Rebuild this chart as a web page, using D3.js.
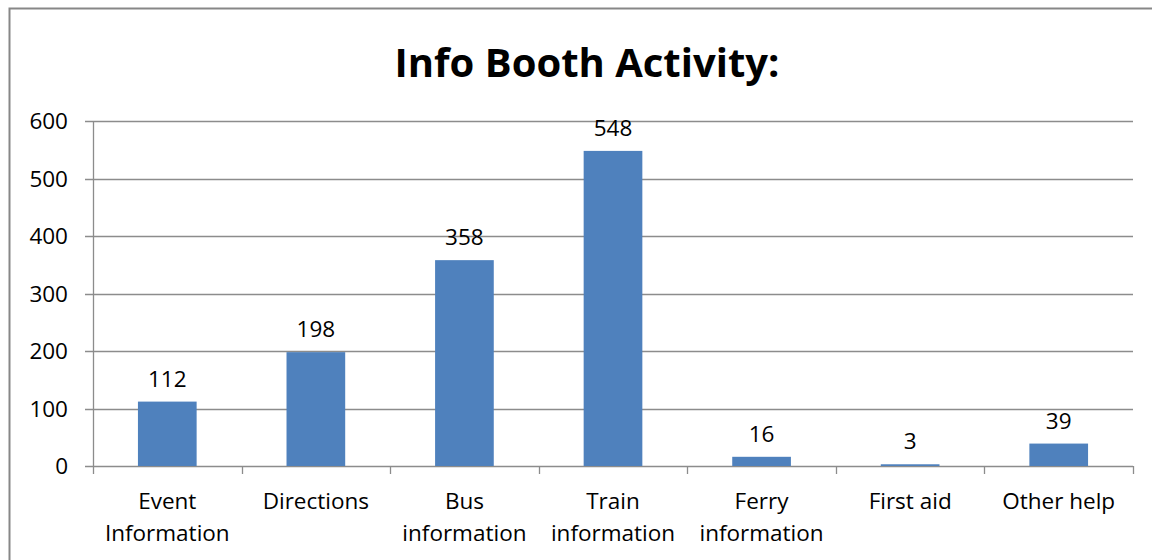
<!DOCTYPE html>
<html>
<head>
<meta charset="utf-8">
<script src="https://cdn.jsdelivr.net/npm/d3@7"></script>
<style>
  body { margin: 0; background: #fff; }
  text { font-family: "Open Sans", Lato, sans-serif; fill: #000; }
</style>
</head>
<body>
<svg id="chart" width="1152" height="560"></svg>
<script>
const categories = [
    ["Event", "Information"],
    ["Directions"],
    ["Bus", "information"],
    ["Train", "information"],
    ["Ferry", "information"],
    ["First aid"],
    ["Other help"]
];
const values = [112, 198, 358, 548, 16, 3, 39];
const yTicks = [0, 100, 200, 300, 400, 500, 600];

const svg = d3.select("#chart");

// chart frame
svg.append("rect")
    .attr("x", 9.5).attr("y", 8.5)
    .attr("width", 1200).attr("height", 600)
    .attr("fill", "none")
    .attr("stroke", "#878787")
    .attr("stroke-width", 2);

svg.append("text")
    .attr("x", 587).attr("y", 77)
    .attr("text-anchor", "middle")
    .style("font-size", "40px")
    .style("font-weight", "bold")
    .text("Info Booth Activity:");

const plotL = 93, plotR = 1133, plotT = 121, plotB = 466;
const fs = "22.5px";

const x = d3.scaleBand()
    .domain(d3.range(categories.length))
    .range([plotL, plotR])
    .padding(0);

const y = d3.scaleLinear()
    .domain([0, 600])
    .range([plotB, plotT]);

// gridlines
svg.selectAll(".grid")
    .data(yTicks)
    .enter().append("line")
    .attr("x1", plotL - 8).attr("x2", plotR)
    .attr("y1", d => Math.round(y(d)) + 0.5)
    .attr("y2", d => Math.round(y(d)) + 0.5)
    .attr("stroke", "#8c8c8c")
    .attr("stroke-width", 1.3);

// y axis line
svg.append("line")
    .attr("x1", plotL + 0.5).attr("x2", plotL + 0.5)
    .attr("y1", plotT).attr("y2", plotB)
    .attr("stroke", "#8c8c8c")
    .attr("stroke-width", 1.3);

svg.selectAll(".ylab")
    .data(yTicks)
    .enter().append("text")
    .attr("x", 68)
    .attr("y", d => y(d) + 8)
    .attr("text-anchor", "end")
    .style("font-size", fs)
    .text(d => d);

// x ticks at band boundaries
const bounds = d3.range(categories.length + 1).map(i => plotL + i * x.step());
svg.selectAll(".xtick")
    .data(bounds)
    .enter().append("line")
    .attr("x1", d => Math.round(d) + 0.5).attr("x2", d => Math.round(d) + 0.5)
    .attr("y1", plotB).attr("y2", plotB + 8)
    .attr("stroke", "#8c8c8c")
    .attr("stroke-width", 1.3);

const barW = x.bandwidth() * 0.395;

svg.selectAll(".bar")
    .data(values)
    .enter().append("rect")
    .attr("class", "bar")
    .attr("x", (d, i) => x(i) + x.bandwidth() / 2 - barW / 2)
    .attr("y", d => y(d))
    .attr("width", barW)
    .attr("height", d => y(0) - y(d))
    .attr("fill", "#4f81bd");

svg.selectAll(".vlab")
    .data(values)
    .enter().append("text")
    .attr("x", (d, i) => x(i) + x.bandwidth() / 2)
    .attr("y", d => y(d) - 15)
    .attr("text-anchor", "middle")
    .style("font-size", fs)
    .text(d => d);

const catG = svg.selectAll(".cat")
    .data(categories)
    .enter().append("text")
    .attr("text-anchor", "middle")
    .style("font-size", fs);

catG.selectAll("tspan")
    .data((d, i) => d.map(t => ({ t, i })))
    .enter().append("tspan")
    .attr("x", d => x(d.i) + x.bandwidth() / 2)
    .attr("y", (d, j) => 509 + j * 32)
    .text(d => d.t);
</script>
</body>
</html>
